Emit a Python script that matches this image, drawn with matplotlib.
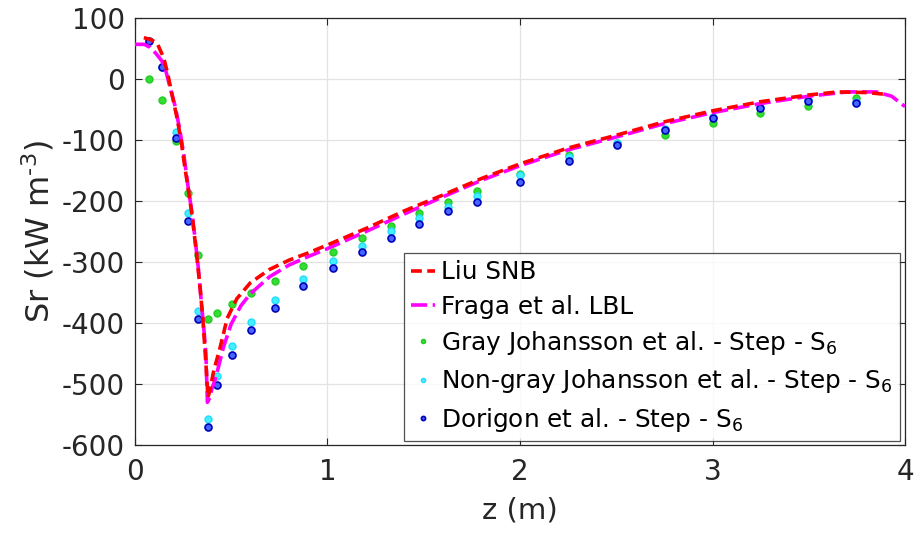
import matplotlib
matplotlib.use("Agg")
import matplotlib.pyplot as plt

# ---- data ----
liu_z = [0.047, 0.09, 0.12, 0.15, 0.17, 0.19, 0.22, 0.24, 0.26, 0.28, 0.30, 0.32, 0.34, 0.355,
         0.37, 0.38, 0.39, 0.41, 0.44, 0.48, 0.53, 0.60, 0.70, 0.80, 0.90, 1.0, 1.2, 1.4, 1.6,
         1.8, 2.0, 2.25, 2.5, 2.75, 3.0, 3.25, 3.5, 3.65, 3.8, 3.9]
liu_v = [68, 64, 56, 35, 10, -20, -65, -100, -145, -185, -230, -285, -345, -400,
         -470, -522, -510, -478, -444, -392, -360, -334, -312, -297, -285, -272, -245, -216, -190,
         -163, -139, -113, -92, -70, -52, -37, -26, -21, -22, -25]

fraga_z = [0.0, 0.05, 0.08, 0.11, 0.14, 0.16, 0.18, 0.21, 0.234, 0.255, 0.277, 0.295, 0.312,
           0.33, 0.346, 0.36, 0.369, 0.377, 0.39, 0.40, 0.42, 0.46, 0.50, 0.55, 0.60, 0.70,
           0.80, 0.90, 1.0, 1.2, 1.4, 1.6, 1.8, 2.0, 2.25, 2.5, 2.75, 3.0, 3.25, 3.5, 3.7,
           3.85, 3.93, 4.0]
fraga_v = [57, 57, 52, 42, 30, 15, -10, -45, -84, -125, -177, -215, -259,
           -310, -368, -415, -449, -530, -522, -508, -490, -440, -402, -372, -352, -324,
           -305, -291, -278, -250, -221, -193, -166, -142, -116, -95, -73, -55, -40, -28, -21,
           -21, -28, -45]

pts_z = [0.074, 0.142, 0.213, 0.274, 0.329, 0.381, 0.428, 0.505, 0.606, 0.727, 0.876,
         1.027, 1.178, 1.328, 1.475, 1.626, 1.777, 2.0, 2.253, 2.502, 2.753, 3.001, 3.248,
         3.498, 3.745]
gray_v = [0, -34, -101, -186, -288, -394, -384, -369, -351, -331, -306,
          -284, -261, -241, -220, -201, -184, -155, -125, -105, -91, -72, -56, -44, -31]
nongray_v = [62, 20, -87, -220, -380, -557, -487, -437, -398, -362, -327,
             -298, -274, -249, -228, -209, -191, -157, -127, -105, -82, -62, -45, -35, -37]
dorigon_v = [62, 20, -96, -233, -393, -571, -502, -452, -412, -376, -339,
             -310, -284, -260, -238, -217, -201, -168, -135, -108, -84, -64, -47, -36, -39]

xticks = [0, 1, 2, 3, 4]
yticks = [-600, -500, -400, -300, -200, -100, 0, 100]

# ---- plot ----
plt.rcParams['font.family'] = ['DejaVu Sans']
plt.rcParams['axes.unicode_minus'] = False
plt.rcParams['mathtext.default'] = 'regular'
fig = plt.figure(figsize=(9.17, 5.33), dpi=100)
ax = fig.add_axes([0.147, 0.165, 0.840, 0.801])

ax.plot(pts_z, gray_v, 'o', ms=5, mfc='#33dd33', mec='#22cc22', mew=1,
        label='Gray Johansson et al. - Step - S$_6$', zorder=3)
ax.plot(pts_z, nongray_v, 'o', ms=5, mfc='#44eeff', mec='#22ddff', mew=1,
        label='Non-gray Johansson et al. - Step - S$_6$', zorder=3)
ax.plot(pts_z, dorigon_v, 'o', ms=5, mfc='#4466ff', mec='#0000bb', mew=1.2,
        label='Dorigon et al. - Step - S$_6$', zorder=3)
ax.plot(fraga_z, fraga_v, color='#ff00ff', lw=2.6, dashes=(4.5, 1.5),
        label='Fraga et al. LBL', zorder=4)
ax.plot(liu_z, liu_v, color='#ff0000', lw=2.6, dashes=(3, 1.5),
        label='Liu SNB', zorder=5)

ax.set_xlim(0, 4)
ax.set_ylim(-600, 100)
ax.set_xticks(xticks)
ax.set_yticks(yticks)
ax.grid(True, color='#e3e3e3', lw=0.9)
ax.set_axisbelow(True)
ax.tick_params(direction='in', length=5, width=0.8, labelsize=20,
               colors='#262626', top=True, right=True)
ax.tick_params(axis='x', pad=9)
ax.tick_params(axis='y', pad=7)
for s in ax.spines.values():
    s.set_color('#262626')
    s.set_linewidth(0.9)
ax.set_xlabel('z (m)', fontsize=21, color='#262626', labelpad=8)
ax.set_ylabel('Sr (kW m$^{\\text{-}3}$)', fontsize=23, color='#262626', labelpad=4)

h, l = ax.get_legend_handles_labels()
order = [4, 3, 0, 1, 2]
leg = ax.legend([h[i] for i in order], [l[i] for i in order], loc='lower right',
                bbox_to_anchor=(0.993, 0.009), fontsize=17.8, frameon=True,
                fancybox=False, edgecolor='#262626', handlelength=0.95,
                handletextpad=0.25, borderpad=0.3, labelspacing=0.42,
                markerscale=0.6, borderaxespad=0)
leg.get_frame().set_linewidth(0.9)

fig.savefig('out.png', dpi=100)
